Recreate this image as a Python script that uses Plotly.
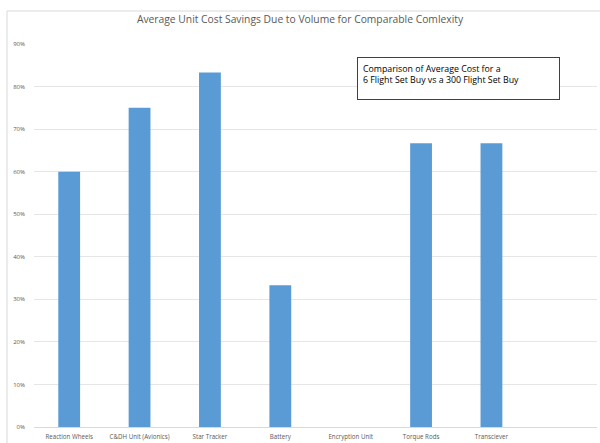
import plotly.graph_objects as go

categories = ["Reaction Wheels", "C&DH Unit (Avionics)", "Star Tracker", "Battery",
              "Encryption Unit", "Torque Rods", "Transciever"]
savings = [0.60, 0.75, 0.8333, 0.3333, None, 0.6667, 0.6667]

title_text = "Average Unit Cost Savings Due to Volume for Comparable Comlexity"
note_text = "Comparison of Average Cost for a<br>6 Flight Set Buy vs a 300 Flight Set Buy"

FONT = "Open Sans"
GRAY = "#595959"

fig = go.Figure(go.Bar(
    x=categories, y=savings,
    marker=dict(color="#5b9bd5", line=dict(width=0)),
    width=0.31,
))

fig.update_layout(
    width=600, height=443,
    margin=dict(l=34, r=3, t=44, b=16),
    paper_bgcolor="white", plot_bgcolor="white",
    showlegend=False,
    font=dict(family=FONT, color=GRAY),
    title=dict(text=title_text, x=0.5, xanchor="center", y=1 - 19 / 443, yanchor="middle",
               font=dict(family=FONT, size=10.3, color=GRAY)),
)
fig.update_xaxes(
    type="category", range=[-0.5, 7.5],
    tickfont=dict(family=FONT, size=6.2, color=GRAY),
    showgrid=False, showline=False, ticks="", ticklabelstandoff=5,
)
fig.update_yaxes(
    range=[0, 0.9], dtick=0.1, tickformat=".0%",
    tickfont=dict(family=FONT, size=6, color=GRAY),
    showgrid=True, gridcolor="#e6e6e6", gridwidth=1,
    zeroline=True, zerolinecolor="#d9d9d9", zerolinewidth=1,
    showline=False, ticks="", ticklabelstandoff=8,
)

# outer chart frame
fig.add_shape(type="rect", xref="paper", yref="paper",
              x0=-27 / 563, x1=1 + 10 / 563, y0=-40 / 383, y1=1 + 33 / 383,
              line=dict(color="#d9d9d9", width=1), fillcolor="rgba(0,0,0,0)", layer="below")

# annotation box
fig.add_annotation(
    xref="paper", yref="paper",
    x=(357 - 34) / 563, y=(427 - 57) / 383, xanchor="left", yanchor="top",
    text=note_text, align="left", showarrow=False,
    font=dict(family=FONT, size=8.8, color="#000000"),
    bordercolor="#404040", borderwidth=1, borderpad=5,
    width=191, height=31, valign="top", bgcolor="white",
)

fig.write_html("out.html")
